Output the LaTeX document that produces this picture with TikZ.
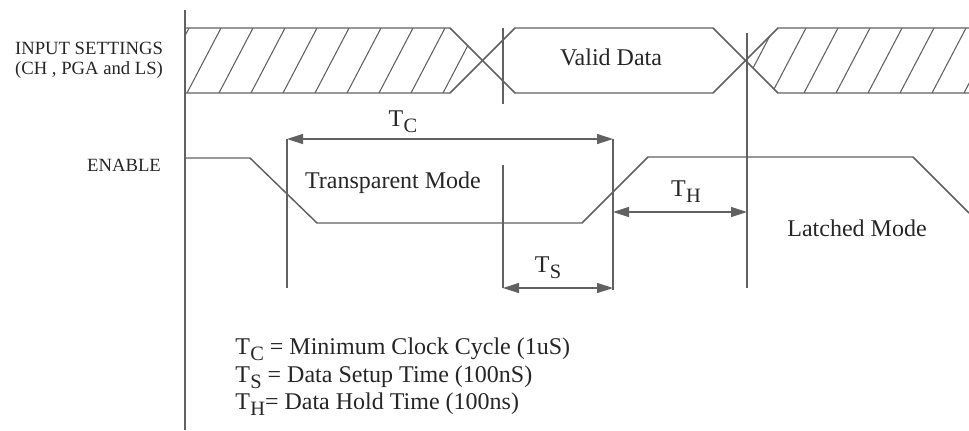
\documentclass[tikz,border=0pt]{standalone}
\usepackage{fontspec}
\setmainfont{Liberation Serif}
\usetikzlibrary{arrows.meta,positioning}
\tikzset{
	sig/.style={line width=1.1pt, color=black!62},
	marker/.style={line width=1pt, color=black!62},
	dimarrow/.style={line width=1pt, color=black!62, {Triangle[length=12pt,width=7.5pt]}-{Triangle[length=12pt,width=7.5pt]}},
	hatch/.style={line width=0.8pt, color=black!62},
	bigtext/.style={font=\fontsize{18}{21}\selectfont, text=black!85, inner sep=0pt},
	sidetext/.style={font=\fontsize{14}{16}\selectfont, text=black!85, inner sep=0pt},
}
\newcommand{\tsub}[2]{#1\kern0.3pt\raisebox{-0.55ex}{\scalebox{0.85}{#2}}}

\begin{document}
\begin{tikzpicture}[x=0.75pt,y=0.75pt,yscale=-1,xscale=1]
		\useasboundingbox (0,0) rectangle (969,430);
		
		%Straight Lines: time axis
		\draw [marker] (185,10) -- (185,430) ;
		
		%Shape: hatched input settings (left)
		\begin{scope}
			\clip (185,28) -- (450,28) -- (482.5,60.5) -- (450,93) -- (185,93) -- cycle;
			\foreach \x in {155,187,...,475} \draw [hatch] (\x,93) -- (\x+34,28);
		\end{scope}
		%Shape: hatched input settings (right)
		\begin{scope}
			\clip (745.5,60.5) -- (778,28) -- (975,28) -- (975,93) -- (778,93) -- cycle;
			\foreach \x in {740,772,...,990} \draw [hatch] (\x,93) -- (\x+34,28);
		\end{scope}
		
		%Straight Lines: input bus
		\draw [sig] (185,28) -- (450,28) -- (515,93) -- (713,93) -- (778,28) -- (969,28) ;
		\draw [sig] (185,93) -- (450,93) -- (515,28) -- (713,28) -- (778,93) -- (969,93) ;
		
		%Straight Lines: enable
		\draw [sig] (185,158) -- (250,158) -- (317,223) -- (582,223) -- (648,157) -- (913,157) -- (969,213) ;
		
		% timing marks
		\coordinate (tcl) at (287,139);
		\coordinate (tcr) at (613,139);
		\coordinate (tsl) at (503,288);
		\coordinate (tsr) at (613,288);
		\coordinate (thl) at (613,212);
		\coordinate (thr) at (747,212);
		
		\draw [marker] (503,28) -- (503,104) ;
		\draw [marker] (503,165) -- (tsl) ;
		\draw [marker] (747,33) -- (747,288) ;
		\draw [marker] (tcl) -- (287,288) ;
		\draw [marker] (tcr) -- (613,290) ;
		
		%Arrows
		\draw [dimarrow] (tcl) -- (tcr) ;
		\draw [dimarrow] (tsl) -- (tsr) ;
		\draw [dimarrow] (thl) -- (thr) ;
		
		% Text Node
		\node [bigtext] (tclabel) at (403,122) {\tsub{T}{C}};
		% Text Node
		\node [bigtext] (tslabel) at (548,268) {\tsub{T}{S}};
		% Text Node
		\node [bigtext] (thlabel) at (686,192) {\tsub{T}{H}};
		% Text Node
		\node [bigtext] (valid) at (611,57) {Valid Data};
		% Text Node
		\node [bigtext] (transp) at (393,183) {Transparent Mode};
		% Text Node
		\node [bigtext] (latched) at (857,228) {Latched Mode};
		% Text Node
		\node [sidetext] (input) at (89,48) {INPUT SETTINGS};
		% Text Node
		\node [sidetext] (chpga) at (89,70) {(CH , PGA and LS)};
		% Text Node
		\node [sidetext] (enable) at (124,165) {ENABLE};
		
		% Legend
		\node [bigtext, anchor=west] (legc) at (235,349) {\tsub{T}{C} = Minimum Clock Cycle (1uS)};
		\node [bigtext, anchor=west] (legs) at (235,377) {\tsub{T}{S} = Data Setup Time (100nS)};
		\node [bigtext, anchor=west] (legh) at (235,404) {\tsub{T}{H}= Data Hold Time (100ns)};
		
\end{tikzpicture}
\end{document}
